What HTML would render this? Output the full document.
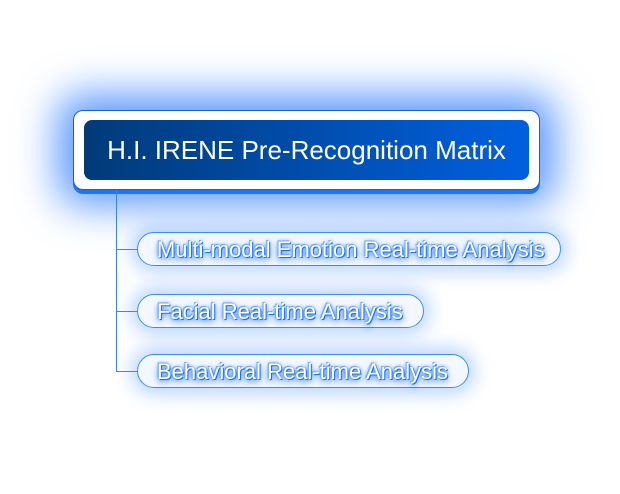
<!DOCTYPE html>
<html><head><style>
body{margin:0;width:620px;height:494px;background:#fff;position:relative;overflow:hidden;font-family:"Liberation Sans",sans-serif}
.main{position:absolute;left:73px;top:110px;width:465px;height:78px;background:#fff;border:1px solid #1a5fd0;border-radius:10px;box-shadow:0 4px 0 #1f77f0,0 0 40px 16px rgba(40,120,255,.75)}
.inner{position:absolute;left:10px;top:9px;width:445px;height:60px;border-radius:8px;background:linear-gradient(90deg,#013a78,#0160e0);color:#fff;font-size:26px;line-height:60px;text-align:center}
.v{position:absolute;left:116px;top:190px;width:1px;height:181px;background:#3a84f0}
.h{position:absolute;left:116px;width:22px;height:1px;background:#3a84f0}
.pill{position:absolute;left:137px;height:34px;border:1px solid #3b8cf5;border-radius:17px;background:rgba(235,243,255,.6);box-shadow:0 0 18px 6px rgba(80,150,255,.4);color:#fff;font-size:22px;line-height:34px;padding-left:19px;box-sizing:border-box;white-space:nowrap;text-shadow:1px 1px 0 #1a6ef5,-1px -1px 0 #6aa8ff,0 3px 7px #1a6ef5,0 0 3px #1a6ef5}
</style></head><body>
<div class="main"><div class="inner">H.I. IRENE Pre-Recognition Matrix</div></div>
<div class="v"></div>
<div class="h" style="top:249px"></div>
<div class="h" style="top:311px"></div>
<div class="h" style="top:371px"></div>
<div class="pill" style="top:232px;width:424px">Multi-modal Emotion Real-time Analysis</div>
<div class="pill" style="top:294px;width:287px">Facial Real-time Analysis</div>
<div class="pill" style="top:354px;width:332px">Behavioral Real-time Analysis</div>
</body></html>
